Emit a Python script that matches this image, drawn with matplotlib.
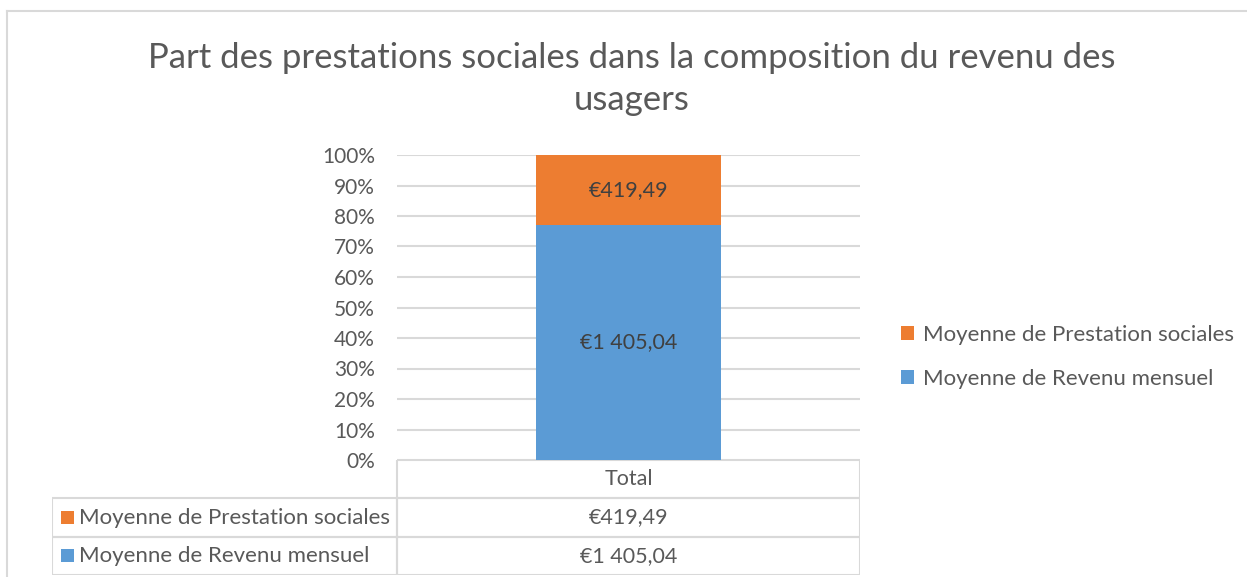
import matplotlib.pyplot as plt
from matplotlib.patches import Rectangle
from matplotlib.lines import Line2D

plt.rcParams['font.family'] = ['Lato', 'DejaVu Sans']

# data
categories = ['Total']
series_names = ['Moyenne de Revenu mensuel', 'Moyenne de Prestation sociales']
series_values = [[1405.04], [419.49]]
series_colors = ['#5B9BD5', '#ED7D31']
yticks = [0, 10, 20, 30, 40, 50, 60, 70, 80, 90, 100]
title = 'Part des prestations sociales dans la composition du revenu des\nusagers'

txt = '#595959'
grid = '#D9D9D9'

def euro(v):
    s = f'{v:,.2f}'.replace(',', ' ').replace('.', ',')
    return '€' + s

W, H = 1247, 577
fig = plt.figure(figsize=(W / 100, H / 100), dpi=100)

def fx(px):
    return px / W

def fy(py):
    return 1 - py / H

# chart border (only top and left visible)
fig.add_artist(Line2D([fx(7), fx(7)], [fy(11), 0], color=grid, lw=1.5))
fig.add_artist(Line2D([fx(7), 1], [fy(11), fy(11)], color=grid, lw=1.5))

fig.text(fx(632), fy(79), title, ha='center', va='center', fontsize=25,
         color=txt, linespacing=1.35)

ax = fig.add_axes([fx(397), fy(460), fx(860) - fx(397), fy(155) - fy(460)])
totals = [sum(v[i] for v in series_values) for i in range(len(categories))]
bottom = [0] * len(categories)
for name, vals, col in zip(series_names, series_values, series_colors):
    pct = [v / t * 100 for v, t in zip(vals, totals)]
    bars = ax.bar(range(len(categories)), pct, bottom=bottom, width=0.4,
                  color=col, label=name, zorder=3)
    for b, v in zip(bars, vals):
        ax.text(b.get_x() + b.get_width() / 2, b.get_y() + b.get_height() / 2,
                euro(v), ha='center', va='center', fontsize=15.5, color='#404040',
                zorder=4)
    bottom = [a + p for a, p in zip(bottom, pct)]

ax.set_xlim(-0.5, 0.5)
ax.set_ylim(0, 100)
ax.set_yticks(yticks)
ax.set_yticklabels([f'{t}%' for t in yticks])
ax.tick_params(axis='y', length=0, pad=16, labelsize=15, labelcolor=txt)
ax.set_xticks([])
for s in ax.spines.values():
    s.set_visible(False)
ax.grid(axis='y', color=grid, lw=1.5, zorder=0)

# data table
tab = fig.add_axes([fx(52), fy(575), fx(860) - fx(52), fy(460) - fy(575)])
tab.set_xlim(52, 860)
tab.set_ylim(575, 460)
tab.axis('off')
split = 397
row_h = (575 - 460) / 3
ec = grid
tab.add_patch(Rectangle((split, 460), 860 - split, row_h, fill=False, ec=ec, lw=1.5))
tab.text((split + 860) / 2, 460 + row_h / 2, categories[0], ha='center',
         va='center', fontsize=15.5, color=txt)
rows = list(zip(series_names, series_values, series_colors))[::-1]
for i, (name, vals, col) in enumerate(rows):
    y0 = 460 + row_h * (i + 1)
    tab.add_patch(Rectangle((52, y0), split - 52, row_h, fill=False, ec=ec, lw=1.5))
    tab.add_patch(Rectangle((split, y0), 860 - split, row_h, fill=False, ec=ec, lw=1.5))
    tab.add_patch(Rectangle((61, y0 + row_h / 2 - 6.5), 13, 13, color=col, lw=0))
    tab.text(79, y0 + row_h / 2, name, ha='left', va='center', fontsize=16,
             color=txt)
    tab.text((split + 860) / 2, y0 + row_h / 2, euro(vals[0]), ha='center',
             va='center', fontsize=15.5, color=txt)

handles, labels = ax.get_legend_handles_labels()
fig.legend(handles[::-1], labels[::-1], loc='center left',
           bbox_to_anchor=(fx(881), fy(357)), frameon=False, fontsize=16,
           labelcolor=txt, handlelength=0.6, handleheight=0.6,
           handletextpad=0.4, labelspacing=1.1)

fig.savefig('out.png', dpi=100)
